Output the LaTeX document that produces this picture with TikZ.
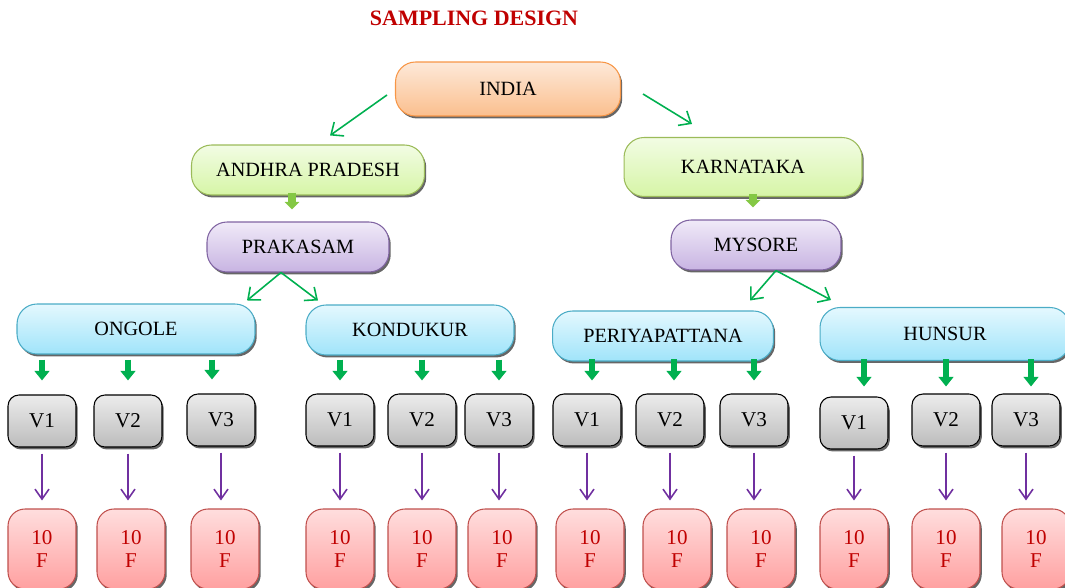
\documentclass[tikz,border=0pt]{standalone}
\usepackage{fontspec}
\setmainfont{Liberation Serif}
\usetikzlibrary{positioning,calc,arrows.meta,shadows}

\definecolor{titlered}{HTML}{C00000}
\definecolor{arrgreen}{HTML}{00B050}
\definecolor{lightgreen}{HTML}{84C844}
\definecolor{arrpurple}{HTML}{7030A0}
\definecolor{orangeline}{HTML}{F79646}

\tikzset{
  box/.style={draw, line width=0.6pt, rounded corners=4mm, inner sep=0pt,
    font=\fontsize{11.5}{13}\selectfont,
    drop shadow={shadow xshift=0.35mm, shadow yshift=-0.5mm, fill=black, opacity=0.6}},
  orangebox/.style={box, draw=orangeline, top color={rgb,255:red,253;green,233;blue,217}, bottom color={rgb,255:red,251;green,191;blue,142}},
  greenbox/.style={box, draw={rgb,255:red,155;green,187;blue,89}, top color={rgb,255:red,242;green,252;blue,228}, bottom color={rgb,255:red,214;green,245;blue,166}},
  purplebox/.style={box, draw={rgb,255:red,128;green,100;blue,162}, top color={rgb,255:red,240;green,234;blue,248}, bottom color={rgb,255:red,200;green,180;blue,226}},
  bluebox/.style={box, draw={rgb,255:red,75;green,172;blue,198}, top color={rgb,255:red,228;green,248;blue,254}, bottom color={rgb,255:red,160;green,228;blue,250}},
  vbox/.style={box, draw=black, rounded corners=2.2mm, minimum width=1.36cm, minimum height=1.04cm,
    top color={rgb,255:red,236;green,236;blue,236}, bottom color={rgb,255:red,188;green,188;blue,188},
    font=\fontsize{12}{14}\selectfont},
  fbox/.style={box, draw={rgb,255:red,192;green,80;blue,77}, rounded corners=3.4mm, minimum width=1.36cm, minimum height=1.6cm,
    top color={rgb,255:red,255;green,222;blue,222}, bottom color={rgb,255:red,255;green,160;blue,160},
    text=titlered, align=center, font=\fontsize{12}{13}\selectfont},
  title/.style={text=titlered, font=\fontsize{12.5}{14}\selectfont\bfseries},
  garr/.style={draw=arrgreen, line width=0.9pt, -{Straight Barb[length=2mm, width=3.4mm]}},
  parr/.style={draw=arrpurple, line width=0.9pt, -{Straight Barb[length=2mm, width=2.8mm]}, shorten <=1.2mm, shorten >=1.6mm},
  blk/.style={draw=arrgreen, line width=1.2mm, -{Triangle[width=2.9mm, length=1.9mm]}, shorten <=1mm, shorten >=2.8mm},
  lblk/.style={draw=lightgreen, line width=1.6mm, -{Triangle[width=2.9mm, length=1.5mm]}, shorten <=-0.6mm, shorten >=2.4mm},
}

\newcommand{\bnode}[4]{\node [#2] (#1) at (#3) {#4}}

\begin{document}
\begin{tikzpicture}[x=0.02cm, y=-0.02cm]
\useasboundingbox (0,0) rectangle (1065,588);

\node [title] (T) at (474,18) {SAMPLING DESIGN};

% top levels
\bnode{IN}{orangebox, minimum width=4.5cm, minimum height=1.08cm}{508,89}{INDIA};
\bnode{AP}{greenbox, minimum width=4.66cm, minimum height=1cm}{308,170}{ANDHRA PRADESH};
\bnode{KA}{greenbox, minimum width=4.76cm, minimum height=1.18cm}{743,167}{KARNATAKA};
\bnode{PR}{purplebox, minimum width=3.64cm, minimum height=1cm}{298,247}{PRAKASAM};
\bnode{MY}{purplebox, minimum width=3.4cm, minimum height=1cm}{756,245}{MYSORE};

\bnode{ON}{bluebox, minimum width=4.76cm, minimum height=1cm}{136,329}{ONGOLE};
\bnode{KO}{bluebox, minimum width=4.16cm, minimum height=1cm}{410,330}{KONDUKUR};
\bnode{PE}{bluebox, minimum width=4.42cm, minimum height=1cm}{663,336}{PERIYAPATTANA};
\bnode{HU}{bluebox, minimum width=5cm, minimum height=1.06cm}{945,334}{HUNSUR};

% villages
\bnode{OV1}{vbox}{42,421}{V1};
\bnode{OV2}{vbox}{128,421}{V2};
\bnode{OV3}{vbox}{221,420}{V3};
\bnode{KV1}{vbox}{340,420}{V1};
\bnode{KV2}{vbox}{422,420}{V2};
\bnode{KV3}{vbox}{499,420}{V3};
\bnode{PV1}{vbox}{587,420}{V1};
\bnode{PV2}{vbox}{670,420}{V2};
\bnode{PV3}{vbox}{754,420}{V3};
\bnode{HV1}{vbox}{854,423}{V1};
\bnode{HV2}{vbox}{946,420}{V2};
\bnode{HV3}{vbox}{1026,420}{V3};

% farmers
\bnode{OF1}{fbox}{42,549}{10\\F};
\bnode{OF2}{fbox}{131,549}{10\\F};
\bnode{OF3}{fbox}{225,549}{10\\F};
\bnode{KF1}{fbox}{340,549}{10\\F};
\bnode{KF2}{fbox}{422,549}{10\\F};
\bnode{KF3}{fbox}{502,549}{10\\F};
\bnode{PF1}{fbox}{590,549}{10\\F};
\bnode{PF2}{fbox}{677,549}{10\\F};
\bnode{PF3}{fbox}{761,549}{10\\F};
\bnode{HF1}{fbox}{854,549}{10\\F};
\bnode{HF2}{fbox}{946,549}{10\\F};
\bnode{HF3}{fbox}{1036,549}{10\\F};

\draw[garr] ($(IN.west)+(-8,6)$) -- ($(AP.north)+(22,-9)$);
\draw[garr] ($(IN.east)+(22,5)$) -- ($(KA.north)+(-51,-13)$);
\draw[lblk] ($(AP.south -| PR.north)+(-6,0)$) -- ($(PR.north)+(-6,0)$);
\draw[lblk] ($(KA.south -| MY.north)+(-3,0)$) -- ($(MY.north)+(-3,0)$);
\draw[garr] ($(PR.south)+(-17,0)$) -- ($(ON.north)+(111,-3)$);
\draw[garr] ($(PR.south)+(-17,0)$) -- ($(KO.north)+(-92,-4)$);
\draw[garr] ($(MY.south)+(20,0)$) -- ($(PE.north)+(87,-10)$);
\draw[garr] ($(MY.south)+(20,0)$) -- ($(HU.north)+(-114,-7)$);

\draw[blk] (ON.south -| OV1.north) -- (OV1.north);
\draw[blk] (ON.south -| OV2.north) -- (OV2.north);
\draw[blk] ($(ON.south -| OV3.north)+(-9,0)$) -- ($(OV3.north)+(-9,0)$);
\draw[blk, shorten <=0.8mm, shorten >=2.6mm] (KO.south -| KV1.north) -- (KV1.north);
\draw[blk, shorten <=0.8mm, shorten >=2.6mm] (KO.south -| KV2.north) -- (KV2.north);
\draw[blk, shorten <=0.8mm, shorten >=2.6mm] (KO.south -| KV3.north) -- (KV3.north);
\draw[blk, shorten <=-0.5mm, shorten >=2.6mm] ($(PE.south -| PV1.north)+(5,0)$) -- ($(PV1.north)+(5,0)$);
\draw[blk, shorten <=-0.5mm, shorten >=2.6mm] ($(PE.south -| PV2.north)+(4,0)$) -- ($(PV2.north)+(4,0)$);
\draw[blk, shorten <=-0.5mm, shorten >=2.6mm] (PE.south -| PV3.north) -- (PV3.north);
\draw[blk, shorten <=-0.4mm, shorten >=2mm] ($(HU.south -| HV1.north)+(10,0)$) -- ($(HV1.north)+(10,0)$);
\draw[blk, shorten <=-0.4mm, shorten >=1.4mm] (HU.south -| HV2.north) -- (HV2.north);
\draw[blk, shorten <=-0.4mm, shorten >=1.4mm] ($(HU.south -| HV3.north)+(5,0)$) -- ($(HV3.north)+(5,0)$);

\draw[parr] (OV1.south) -- (OV1.south |- OF1.north);
\draw[parr] (OV2.south) -- (OV2.south |- OF2.north);
\draw[parr] (OV3.south) -- (OV3.south |- OF3.north);
\draw[parr] (KV1.south) -- (KV1.south |- KF1.north);
\draw[parr] (KV2.south) -- (KV2.south |- KF2.north);
\draw[parr] (KV3.south) -- (KV3.south |- KF3.north);
\draw[parr] (PV1.south) -- (PV1.south |- PF1.north);
\draw[parr] (PV2.south) -- (PV2.south |- PF2.north);
\draw[parr] (PV3.south) -- (PV3.south |- PF3.north);
\draw[parr] (HV1.south) -- (HV1.south |- HF1.north);
\draw[parr] (HV2.south) -- (HV2.south |- HF2.north);
\draw[parr] (HV3.south) -- (HV3.south |- HF3.north);

\end{tikzpicture}
\end{document}
